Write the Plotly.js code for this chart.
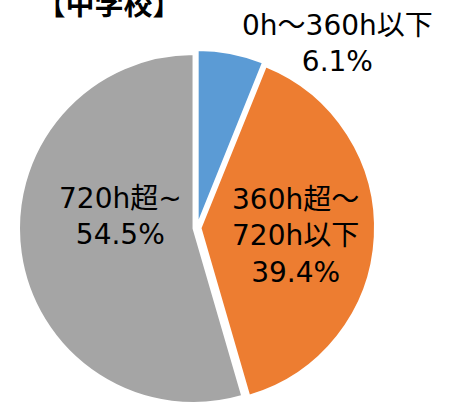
<!DOCTYPE html>
<html>
<head>
<meta charset="utf-8">
<script src="https://cdn.plot.ly/plotly-3.0.1.min.js"></script>
<style>html,body{margin:0;padding:0;background:#fff;}#chart{width:463px;height:406px;}</style>
</head>
<body>
<div id="chart"></div>
<script>
const chartTitle = '【中学校】';
const categories = ['0h～360h以下', '360h超～<br>720h以下', '720h超~'];
const values = [6.1, 39.4, 54.5];
const colors = ['#5B9BD5', '#ED7D31', '#A5A5A5'];

const labelFont = {family: 'DejaVu Sans, "Noto Sans CJK JP", sans-serif', size: 28, color: '#000000'};
// label anchor positions (paper coords) for each slice's text
const labelPos = [[337/463, 1 - 44/406], [295/463, 1 - 236/406], [120/463, 1 - 216/406]];

const annotations = categories.map((c, i) => ({
  text: c + '<br>' + values[i].toFixed(1) + '%',
  x: labelPos[i][0], y: labelPos[i][1], xref: 'paper', yref: 'paper',
  xanchor: 'center', yanchor: 'middle', showarrow: false, align: 'center',
  font: labelFont
}));

const trace = {
  type: 'pie',
  labels: categories,
  values: values,
  sort: false,
  direction: 'clockwise',
  rotation: 0,
  pull: [0.02, 0.02, 0.02],
  textinfo: 'none',
  hoverinfo: 'label+percent',
  marker: {colors: colors, line: {color: '#ffffff', width: 2}},
  domain: {x: [0.041, 0.810], y: [0, 0.877]},
  showlegend: false
};

const layout = {
  width: 463, height: 406,
  margin: {l: 0, r: 0, t: 0, b: 0},
  paper_bgcolor: '#ffffff',
  title: {text: chartTitle, x: 109/463, xanchor: 'center', y: 1 - 5/406, yref: 'container', yanchor: 'middle',
          font: {family: '"Noto Sans CJK JP", sans-serif', size: 29, color: '#000000', weight: 'bold'}},
  annotations: annotations,
  showlegend: false
};

Plotly.newPlot('chart', [trace], layout, {displayModeBar: false, staticPlot: true});
</script>
</body>
</html>
